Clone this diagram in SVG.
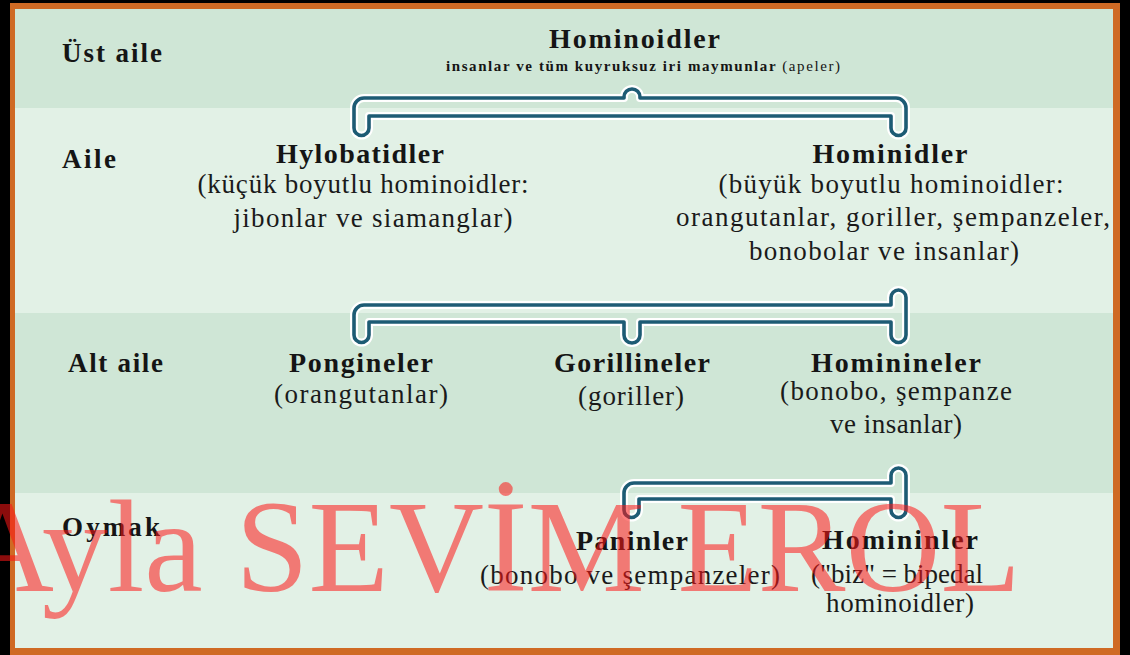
<svg xmlns="http://www.w3.org/2000/svg" width="1130" height="655" viewBox="0 0 1130 655">
<style>
.lbl{font-family:"Liberation Serif",serif;font-weight:bold;font-size:27px;fill:#151515}
.hd{font-family:"Liberation Serif",serif;font-weight:bold;font-size:28px;fill:#151515;text-anchor:middle}
.tx{font-family:"Liberation Serif",serif;font-size:27px;fill:#1a1a1a;text-anchor:middle}
.sub{font-family:"Liberation Serif",serif;font-weight:bold;font-size:15px;fill:#151515;text-anchor:middle}
.halo{fill:none;stroke:#ffffff;stroke-width:8;stroke-linejoin:round}
.br{fill:none;stroke:#1d5b74;stroke-width:3.6;stroke-linejoin:round}
.wm{font-family:"Liberation Serif",serif;font-size:131.5px;fill:#fd1515;fill-opacity:0.55}
</style>
<defs>
<path id="b1" d="M 364 98 H 624 V 97 A 8 8 0 0 1 640 97 V 98 H 896 A 10 10 0 0 1 906 108 V 128 A 7.5 7.5 0 0 1 891 128 V 116 H 369 V 128 A 7.5 7.5 0 0 1 354 128 V 108 A 10 10 0 0 1 364 98 Z"/>
<path id="b2" d="M 364 305 H 891 V 297.5 A 7.5 7.5 0 0 1 906 297.5 V 335 A 7.5 7.5 0 0 1 891 335 V 322 H 640 V 335 A 8 8 0 0 1 624 335 V 322 H 369 V 335 A 7.5 7.5 0 0 1 354 335 V 315 A 10 10 0 0 1 364 305 Z"/>
<path id="b3" d="M 634 483 H 891 V 475.5 A 7.5 7.5 0 0 1 906 475.5 V 510 A 7.5 7.5 0 0 1 891 510 V 499 H 639 V 510 A 7.5 7.5 0 0 1 624 510 V 493 A 10 10 0 0 1 634 483 Z"/>
</defs>
<rect x="0" y="0" width="1130" height="655" fill="#000000"/>
<rect x="10" y="3" width="1110" height="652" fill="#cf6a24"/>
<g id="bands">
<rect x="15" y="9" width="1098" height="99" fill="#cfe6d6"/>
<rect x="15" y="108" width="1098" height="205" fill="#e2f1e6"/>
<rect x="15" y="313" width="1098" height="180" fill="#cfe6d6"/>
<rect x="15" y="493" width="1098" height="155" fill="#e2f1e6"/>
</g>
<g id="ranks">
<text class="lbl" x="62" y="62" textLength="100" lengthAdjust="spacing">Üst aile</text>
<text class="lbl" x="62" y="168" textLength="54" lengthAdjust="spacing">Aile</text>
<text class="lbl" x="68" y="372" textLength="95" lengthAdjust="spacing">Alt aile</text>
<text class="lbl" x="62" y="536" textLength="98" lengthAdjust="spacing">Oymak</text>
</g>
<g id="connectors">
<use href="#b1" class="halo"/><use href="#b1" class="br"/>
<use href="#b2" class="halo"/><use href="#b2" class="br"/>
<use href="#b3" class="halo"/><use href="#b3" class="br"/>
</g>
<g id="hominoidler">
<text class="hd" x="634.5" y="48" textLength="171" lengthAdjust="spacing">Hominoidler</text>
<text class="sub" x="643" y="71" textLength="394" lengthAdjust="spacing">insanlar ve tüm kuyruksuz iri maymunlar <tspan font-weight="normal">(apeler)</tspan></text>
</g>
<g id="hylobatidler">
<text class="hd" x="360" y="163" textLength="168" lengthAdjust="spacing">Hylobatidler</text>
<text class="tx" x="363" y="193" textLength="331" lengthAdjust="spacing">(küçük boyutlu hominoidler:</text>
<text class="tx" x="373" y="227" textLength="279" lengthAdjust="spacing">jibonlar ve siamanglar)</text>
</g>
<g id="hominidler">
<text class="hd" x="890" y="163" textLength="155" lengthAdjust="spacing">Hominidler</text>
<text class="tx" x="891" y="193" textLength="345" lengthAdjust="spacing">(büyük boyutlu hominoidler:</text>
<text class="tx" x="893" y="226" textLength="434" lengthAdjust="spacing">orangutanlar, goriller, şempanzeler,</text>
<text class="tx" x="884" y="260" textLength="270" lengthAdjust="spacing">bonobolar ve insanlar)</text>
</g>
<g id="pongineler">
<text class="hd" x="361" y="372" textLength="144" lengthAdjust="spacing">Pongineler</text>
<text class="tx" x="361" y="403" textLength="174" lengthAdjust="spacing">(orangutanlar)</text>
</g>
<g id="gorillineler">
<text class="hd" x="632" y="372" textLength="156" lengthAdjust="spacing">Gorillineler</text>
<text class="tx" x="631" y="405" textLength="106" lengthAdjust="spacing">(goriller)</text>
</g>
<g id="hominineler">
<text class="hd" x="896" y="372" textLength="170" lengthAdjust="spacing">Hominineler</text>
<text class="tx" x="896" y="400" textLength="232" lengthAdjust="spacing">(bonobo, şempanze</text>
<text class="tx" x="896" y="433" textLength="132" lengthAdjust="spacing">ve insanlar)</text>
</g>
<g id="paninler">
<text class="hd" x="632" y="550" textLength="112" lengthAdjust="spacing">Paninler</text>
<text class="tx" x="630" y="584" textLength="300" lengthAdjust="spacing">(bonobo ve şempanzeler)</text>
</g>
<g id="homininler">
<text class="hd" x="900" y="549" textLength="156" lengthAdjust="spacing">Homininler</text>
<text class="tx" x="897" y="583" textLength="172" lengthAdjust="spacing">("biz" = bipedal</text>
<text class="tx" x="900" y="612" textLength="148" lengthAdjust="spacing">hominoidler)</text>
</g>
<g id="watermark">
<text class="wm" x="-41" y="591">Ayla SEVİM EROL</text>
</g>
</svg>
